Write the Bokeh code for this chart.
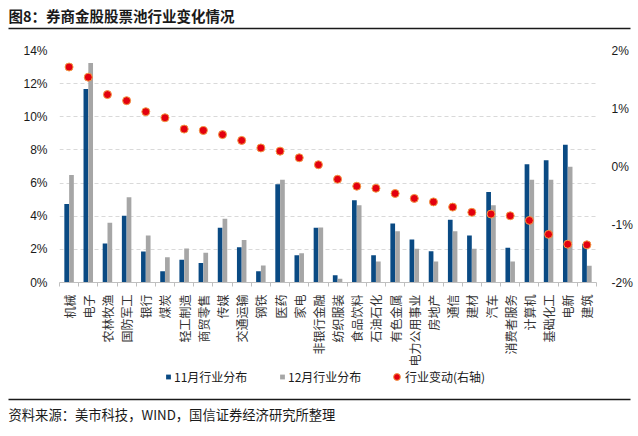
from math import pi, nan
from bokeh.plotting import figure
from bokeh.layouts import column
from bokeh.models import (Range1d, LinearAxis, FixedTicker, PrintfTickFormatter,
                          Legend, LegendItem, ColumnDataSource)
from bokeh.core.properties import value
from bokeh.transform import dodge
from bokeh.embed import file_html
from bokeh.resources import INLINE

categories = ["机械", "电子", "农林牧渔", "国防军工", "银行", "煤炭", "轻工制造", "商贸零售",
              "传媒", "交通运输", "钢铁", "医药", "家电", "非银行金融", "纺织服装", "食品饮料",
              "石油石化", "有色金属", "电力公用事业", "房地产", "通信", "建材", "汽车",
              "消费者服务", "计算机", "基础化工", "电新", "建筑"]
nov_share = [4.74, 11.68, 2.36, 4.03, 1.87, 0.68, 1.38, 1.17, 3.30, 2.13, 0.68, 5.93, 1.64, 3.30,
             0.44, 4.97, 1.64, 3.56, 2.60, 1.89, 3.78, 2.83, 5.46, 2.10, 7.13, 7.38, 8.32, 2.34]
dec_share = [6.48, 13.25, 3.60, 5.15, 2.83, 1.52, 2.05, 1.79, 3.85, 2.56, 1.03, 6.20, 1.77, 3.32,
             0.22, 4.66, 1.26, 3.09, 2.03, 1.26, 3.09, 2.03, 4.66, 1.26, 6.20, 6.20, 6.99, 1.01]
change = [1.715, 1.54, 1.24, 1.135, 0.945, 0.84, 0.645, 0.62, 0.55, 0.45, 0.32, 0.265, 0.15, 0.03,
          -0.22, -0.34, -0.375, -0.465, -0.55, -0.61, -0.70, -0.79, -0.82, -0.85, -0.93, -1.17,
          -1.34, -1.35]
left_ticks = [0, 2, 4, 6, 8, 10, 12, 14]
right_ticks = [-2, -1, 0, 1, 2]

title_text = "图8：券商金股股票池行业变化情况"
source_text = "资料来源：美市科技，WIND，国信证券经济研究所整理"
legend_labels = ["11月行业分布", "12月行业分布", "行业变动(右轴)"]

NAVY = "#0a4a83"
GRAY = "#a6a6a6"
RED = "#e3000f"
RED_EDGE = "#f39a45"
TXT = "#1a1a1a"
AX = "#bfbfbf"
CJK = "Noto Sans CJK SC"
LAT = "Liberation Sans"

W = 638
H_TOP, H_MAIN, H_BOT = 30, 339, 67
ML, MR, MT = 59, 42, 20
FRAME_H = 238
MB = H_MAIN - MT - FRAME_H

n = len(categories)
idx = list(range(n))
src = ColumnDataSource(dict(x=idx, cat=categories, nov=nov_share, dec=dec_share, chg=change))


def blank_figure(h):
    f = figure(width=W, height=h, output_backend="svg", toolbar_location=None, title=None,
               x_range=Range1d(0, W), y_range=Range1d(h, 0), min_border=0,
               x_axis_location=None, y_axis_location=None, frame_align=False)
    f.outline_line_color = None
    f.background_fill_color = "white"
    f.border_fill_color = "white"
    f.xgrid.visible = False
    f.ygrid.visible = False
    return f


# ---------- title strip ----------
top = blank_figure(H_TOP)
top.text(x=[8], y=[15], text=[title_text], text_font=value(CJK), text_font_size="14.5px",
         text_font_style="bold", text_color=TXT, text_baseline="middle", text_align="left")
top.segment(x0=[8], x1=[630], y0=[28], y1=[28], line_color="#1a1a1a", line_width=1.5)

# ---------- main chart ----------
p = figure(width=W, height=H_MAIN, output_backend="svg", toolbar_location=None, title=None,
           x_range=Range1d(-0.5, n - 0.5), y_range=Range1d(left_ticks[0], left_ticks[-1]),
           min_border_left=ML, min_border_right=MR, min_border_top=MT, min_border_bottom=MB,
           frame_align=False)
p.extra_y_ranges = {"chg": Range1d(right_ticks[0], right_ticks[-1])}
p.outline_line_color = None
p.background_fill_color = "white"
p.border_fill_color = "white"

p.xgrid.visible = False
p.ygrid.ticker = FixedTicker(ticks=left_ticks)
p.ygrid.grid_line_color = "#d9d9d9"
p.ygrid.grid_line_dash = "4 3"
p.ygrid.grid_line_width = 1

xa = p.xaxis[0]
xa.ticker = FixedTicker(ticks=idx, minor_ticks=[i - 0.5 for i in range(n + 1)])
xa.major_label_overrides = {i: c for i, c in zip(idx, categories)}
xa.major_label_orientation = pi / 2
xa.major_tick_out = 0
xa.major_tick_in = 0
xa.minor_tick_out = 4
xa.minor_tick_in = 0
xa.minor_tick_line_color = AX
xa.axis_line_color = AX
xa.major_label_standoff = 8
xa.major_label_text_font = CJK
xa.major_label_text_font_size = "12px"
xa.major_label_text_color = "#333333"

ya = p.yaxis[0]
ya.ticker = FixedTicker(ticks=left_ticks)
ya.formatter = PrintfTickFormatter(format="%d%%")
ya.axis_line_color = None
ya.major_tick_line_color = None
ya.minor_tick_line_color = None
ya.major_tick_out = 0
ya.major_label_standoff = 12
ya.major_label_text_font = LAT
ya.major_label_text_font_size = "12px"
ya.major_label_text_color = TXT

ra = LinearAxis(y_range_name="chg", ticker=FixedTicker(ticks=right_ticks),
                formatter=PrintfTickFormatter(format="%d%%"))
ra.axis_line_color = None
ra.major_tick_line_color = None
ra.minor_tick_line_color = None
ra.major_tick_out = 0
ra.major_label_standoff = 15
ra.major_label_text_font = LAT
ra.major_label_text_font_size = "12px"
ra.major_label_text_color = TXT
p.add_layout(ra, "right")

p.vbar(x=dodge("x", -0.125, range=p.x_range), top="nov", width=0.245, source=src,
       fill_color=NAVY, line_color=None)
p.vbar(x=dodge("x", 0.125, range=p.x_range), top="dec", width=0.245, source=src,
       fill_color=GRAY, line_color=None)
p.scatter(x="x", y="chg", y_range_name="chg", source=src, size=8,
          fill_color=RED, line_color=RED_EDGE, line_width=1)

# ---------- legend + source strip ----------
bot = blank_figure(H_BOT)
# legend keys: renderers with a single NaN point, so only their legend swatch is drawn
k_nov = bot.scatter(x=[nan], y=[nan], marker="square", fill_color=NAVY, line_color=None)
k_dec = bot.scatter(x=[nan], y=[nan], marker="square", fill_color=GRAY, line_color=None)
k_chg = bot.scatter(x=[nan], y=[nan], marker="circle", fill_color=RED, line_color=RED_EDGE,
                    line_width=1)


def add_legend(label, rend, x, gw, standoff):
    lg = Legend(items=[LegendItem(label=label, renderers=[rend])], location=(x, 51),
                orientation="horizontal", glyph_width=gw, glyph_height=17, padding=0, margin=0,
                spacing=0, border_line_color=None, background_fill_alpha=0,
                label_standoff=standoff, label_text_font=CJK, label_text_font_size="12px",
                label_text_color=TXT, label_height=17)
    bot.add_layout(lg)


add_legend(legend_labels[0], k_nov, 162, 12, 0)
add_legend(legend_labels[1], k_dec, 276, 12, 0)
add_legend(legend_labels[2], k_chg, 388, 17, -2)

bot.segment(x0=[8], x1=[630], y0=[30], y1=[30], line_color="#1a1a1a", line_width=1.5)
bot.text(x=[8], y=[45], text=[source_text], text_font=value(CJK), text_font_size="13.3px",
         text_color=TXT, text_baseline="middle", text_align="left")

layout = column(top, p, bot, spacing=0)
open("out.html", "w").write(file_html(layout, INLINE))
